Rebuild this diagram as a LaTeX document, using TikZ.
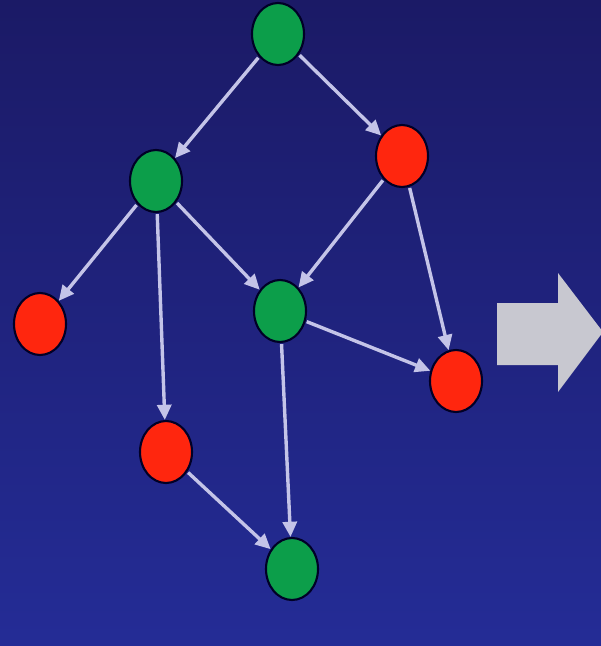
\documentclass[tikz,border=0pt]{standalone}
\usetikzlibrary{shapes.geometric,arrows.meta}

\definecolor{bgtop}{RGB}{27,26,102}
\definecolor{bgbot}{RGB}{36,44,150}
\definecolor{gfill}{RGB}{12,158,74}
\definecolor{rfill}{RGB}{255,38,14}
\definecolor{linkc}{RGB}{196,196,232}
\definecolor{bigarrow}{RGB}{200,200,208}

\tikzset{
  vtx/.style={ellipse, draw=black!85!blue, line width=1.8pt, minimum width=1.56cm, minimum height=1.86cm, inner sep=0pt},
  gnode/.style={vtx, fill=gfill},
  rnode/.style={vtx, fill=rfill},
  link/.style={draw=linkc, line width=2.9pt, -{Triangle[length=13pt,width=12pt]}, shorten <=1pt}
}

\begin{document}
\begin{tikzpicture}[x=0.03cm,y=-0.03cm]
		\fill[top color=bgtop, bottom color=bgbot] (0,0) rectangle (601,646);
		\useasboundingbox (0,0) rectangle (601,646);
		% vertices
		\node[gnode] (a) at (278,34) {};
		\node[gnode] (b) at (156,181) {};
		\node[rnode] (c) at (402,156) {};
		\node[rnode] (d) at (40,324) {};
		\node[gnode] (e) at (280,311) {};
		\node[rnode] (f) at (456,381) {};
		\node[rnode] (g) at (166,452) {};
		\node[gnode] (h) at (292,569) {};
		% edges
		\draw[link] (a) -- (b);
		\draw[link] (a) -- (c);
		\draw[link] (b) -- (d);
		\draw[link] (b) -- (g);
		\draw[link] (b) -- (e);
		\draw[link] (c) -- (e);
		\draw[link] (c) -- (f);
		\draw[link] (e) -- (f);
		\draw[link] (e) -- (h);
		\draw[link] (g) -- (h);
		% big arrow
		\fill[bigarrow] (497,303) -- (558,303) -- (558,273) -- (603,332) -- (558,392) -- (558,365) -- (497,365) -- cycle;
	\end{tikzpicture}
\end{document}
